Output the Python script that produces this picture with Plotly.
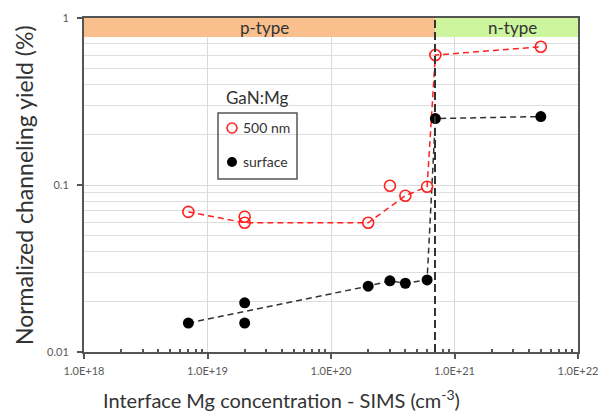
import plotly.graph_objects as go

# 500 nm series (open red circles)
x_500 = [7e18, 2e19, 2e19, 2e20, 3e20, 4e20, 6e20, 7e20, 5e21]
y_500 = [0.069, 0.0646, 0.0594, 0.0594, 0.099, 0.0863, 0.0977, 0.60, 0.673]
line_500 = [True, False, True, True, False, True, True, True, True]   # points joined by the dashed line
# surface series (filled black circles)
x_surf = [7e18, 2e19, 2e19, 2e20, 3e20, 4e20, 6e20, 7e20, 5e21]
y_surf = [0.0149, 0.0197, 0.0149, 0.0248, 0.0267, 0.0258, 0.027, 0.25, 0.257]
line_surf = [True, False, False, True, True, True, True, True, True]

series_names = ["500 nm", "surface"]

# p/n boundary
boundary_x = 6.95e20
x_min, x_max = 1e18, 1e22

x_tickvals = [1e18, 1e19, 1e20, 1e21, 1e22]
x_ticktext = ["1.0E+18", "1.0E+19", "1.0E+20", "1.0E+21", "1.0E+22"]
y_tickvals = [0.01, 0.1, 1]
y_ticktext = ["0.01", "0.1", "1"]

x_minor = [float(m) * 10.0 ** e for e in range(18, 22) for m in range(2, 10)]
y_minor = [float(m) * 10.0 ** e for e in (-2, -1) for m in range(2, 10)]

FONT = "Lato, sans-serif"
TXT = "#333333"
RED = "#ff2020"
DARK = "#333333"


def subset(xs, ys, flags):
    return [x for x, f in zip(xs, flags) if f], [y for y, f in zip(ys, flags) if f]


fig = go.Figure()
# dashed connecting lines
lx, ly = subset(x_500, y_500, line_500)
fig.add_trace(go.Scatter(x=lx, y=ly, mode="lines", showlegend=False, hoverinfo="skip",
                         line=dict(color=RED, width=1.5, dash="6px,4px")))
lx, ly = subset(x_surf, y_surf, line_surf)
fig.add_trace(go.Scatter(x=lx, y=ly, mode="lines", showlegend=False, hoverinfo="skip",
                         line=dict(color=DARK, width=1.5, dash="6px,4px")))
# markers
fig.add_trace(go.Scatter(
    x=x_500, y=y_500, mode="markers", name=series_names[0], showlegend=False,
    marker=dict(symbol="circle-open", size=11, color=RED, line=dict(width=1.6)),
))
fig.add_trace(go.Scatter(
    x=x_surf, y=y_surf, mode="markers", name=series_names[1], showlegend=False,
    marker=dict(symbol="circle", size=11, color="#000000"),
))

# manual legend key (overlay axis in 0..1 units of the plot area)
fig.add_trace(go.Scatter(
    x=[0.2996], y=[0.6707], mode="markers", xaxis="x2", yaxis="y2", showlegend=False,
    hoverinfo="skip",
    marker=dict(symbol="circle-open", size=10, color=RED, line=dict(width=1.6)),
))
fig.add_trace(go.Scatter(
    x=[0.2996], y=[0.5689], mode="markers", xaxis="x2", yaxis="y2", showlegend=False,
    hoverinfo="skip",
    marker=dict(symbol="circle", size=10, color="#000000"),
))

# legend box
fig.add_shape(type="rect", xref="paper", yref="paper",
              x0=(218 - 84) / 494, x1=(297 - 84) / 494,
              y0=1 - (179 - 18) / 334, y1=1 - (113 - 18) / 334,
              line=dict(color="#555555", width=1.5), fillcolor="rgba(0,0,0,0)", layer="above")
fig.add_annotation(x=(241 - 84) / 494, y=0.6707, xref="paper", yref="paper",
                   text=series_names[0], showarrow=False, xanchor="left", yanchor="middle",
                   font=dict(family=FONT, size=14, color=TXT))
fig.add_annotation(x=(241 - 84) / 494, y=0.5689, xref="paper", yref="paper",
                   text=series_names[1], showarrow=False, xanchor="left", yanchor="middle",
                   font=dict(family=FONT, size=14, color=TXT))

# bands
fig.add_shape(type="rect", xref="x", yref="paper", x0=x_min, x1=boundary_x,
              y0=0.943, y1=1, fillcolor="#f9c08e", line=dict(width=0), layer="above")
fig.add_shape(type="rect", xref="x", yref="paper", x0=boundary_x, x1=x_max,
              y0=0.943, y1=1, fillcolor="#ccf59e", line=dict(width=0), layer="above")
# separator
fig.add_shape(type="line", xref="x", yref="paper", x0=boundary_x, x1=boundary_x,
              y0=0, y1=1, line=dict(color=DARK, width=2, dash="8px,4px"), layer="above")

fig.add_annotation(x=0.366, y=0.973, xref="paper", yref="paper", text="p-type",
                   showarrow=False, xanchor="center", yanchor="middle",
                   font=dict(family=FONT, size=17, color=TXT))
fig.add_annotation(x=0.868, y=0.973, xref="paper", yref="paper", text="n-type",
                   showarrow=False, xanchor="center", yanchor="middle",
                   font=dict(family=FONT, size=17, color=TXT))
fig.add_annotation(x=0.350, y=0.763, xref="paper", yref="paper", text="GaN:Mg",
                   showarrow=False, xanchor="center", yanchor="middle",
                   font=dict(family=FONT, size=17, color=TXT))

# axis titles
fig.add_annotation(x=(281 - 84) / 494, y=(352 - 399) / 334, xref="paper", yref="paper",
                   text="Interface Mg concentration - SIMS (cm<sup>-3</sup>)",
                   showarrow=False, xanchor="center", yanchor="middle",
                   font=dict(family=FONT, size=20, color=TXT))
fig.add_annotation(x=(24 - 84) / 494, y=1 - (185 - 18) / 334, xref="paper", yref="paper",
                   text="Normalized channeling yield (%)", textangle=-90,
                   showarrow=False, xanchor="center", yanchor="middle",
                   font=dict(family=FONT, size=23, color=TXT))

fig.update_xaxes(
    type="log", range=[18, 22], automargin=False,
    tickvals=x_tickvals, ticktext=x_ticktext,
    ticks="outside", ticklen=5, tickwidth=1.5, tickcolor="#555555",
    showgrid=True, gridcolor="#d9d9d9", gridwidth=1,
    showline=True, linecolor="#555555", linewidth=2, mirror=True,
    tickfont=dict(family=FONT, size=11, color="#595959"),
    ticklabelstandoff=3,
    minor=dict(tickvals=x_minor, ticks="inside", ticklen=3, tickcolor="#555555", showgrid=False),
    zeroline=False,
)
fig.update_yaxes(
    type="log", range=[-2, 0], automargin=False,
    tickvals=y_tickvals, ticktext=y_ticktext,
    ticks="outside", ticklen=5, tickwidth=1.5, tickcolor="#555555",
    showgrid=True, gridcolor="#d9d9d9", gridwidth=1,
    showline=True, linecolor="#555555", linewidth=2, mirror=True,
    tickfont=dict(family=FONT, size=11, color="#595959"),
    ticklabelstandoff=6,
    minor=dict(tickvals=y_minor, ticks="", showgrid=True, gridcolor="#dedede", gridwidth=1),
    zeroline=False,
)

fig.update_layout(
    width=602, height=412,
    margin=dict(l=84, r=24, t=18, b=60),
    paper_bgcolor="white", plot_bgcolor="white",
    xaxis2=dict(overlaying="x", range=[0, 1], visible=False, domain=[0, 1]),
    yaxis2=dict(overlaying="y", range=[0, 1], visible=False, domain=[0, 1]),
    showlegend=False,
)

fig.write_html("out.html", config={"displayModeBar": False},
               post_script="document.body.style.margin='0';document.body.style.padding='0';")
